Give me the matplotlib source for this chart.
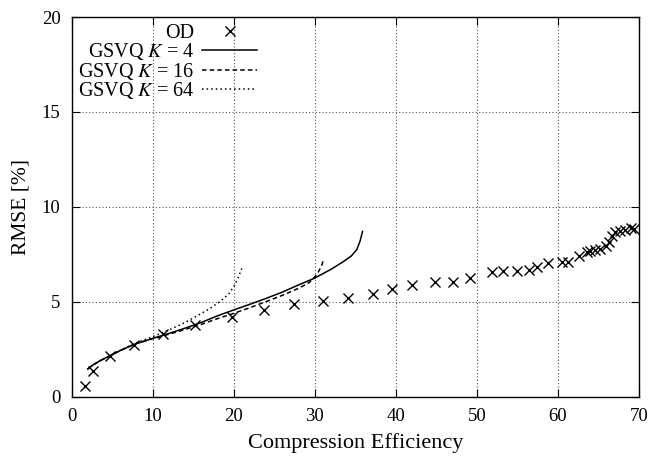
import matplotlib
matplotlib.use("Agg")
import matplotlib.pyplot as plt

plt.rcParams['font.family'] = ['Liberation Serif', 'DejaVu Serif']
plt.rcParams['mathtext.fontset'] = 'stix'

od_x = [1.65, 2.68, 4.74, 7.7, 11.3, 15.25, 19.8, 23.7, 27.4, 31.05, 34.05, 37.2, 39.5,
        42.0, 44.85, 47.0, 49.2, 51.9, 53.2, 55.0, 56.4, 57.4, 58.8, 60.5, 61.3, 62.6,
        63.6, 64.0, 64.6, 65.2, 65.9, 66.3, 66.7, 67.1, 67.7, 68.3, 69.0, 69.4]
od_y = [0.57, 1.33, 2.12, 2.74, 3.27, 3.75, 4.19, 4.54, 4.86, 5.04, 5.18, 5.4, 5.67,
        5.88, 6.05, 6.05, 6.23, 6.58, 6.63, 6.62, 6.67, 6.8, 7.02, 7.11, 7.11, 7.38,
        7.59, 7.65, 7.73, 7.77, 7.94, 8.12, 8.47, 8.65, 8.7, 8.76, 8.88, 8.83]

k4_x = [2.0, 2.5, 3.5, 4.7, 6, 7.8, 10, 12, 14, 16, 18, 20, 22, 24, 26, 28, 30, 32,
        33.5, 34.5, 35.2, 35.6, 35.9]
k4_y = [1.45, 1.62, 1.88, 2.14, 2.42, 2.76, 3.06, 3.32, 3.6, 3.9, 4.25, 4.56, 4.86,
        5.17, 5.5, 5.88, 6.24, 6.7, 7.1, 7.4, 7.75, 8.2, 8.7]

k16_x = [2.0, 2.5, 3.5, 4.7, 6, 7.8, 10, 12, 14, 16, 18, 20, 22, 24, 26, 28, 29.3,
         30.0, 30.5, 30.9, 31.1]
k16_y = [1.45, 1.62, 1.88, 2.14, 2.42, 2.76, 3.04, 3.28, 3.53, 3.8, 4.1, 4.38, 4.68,
         5.0, 5.33, 5.7, 6.0, 6.3, 6.6, 6.95, 7.25]

k64_x = [2.0, 2.5, 3.5, 4.7, 6, 7.8, 10, 12, 14, 15.5, 17, 18.3, 19.4, 20.1, 20.6, 21.0]
k64_y = [1.45, 1.62, 1.88, 2.14, 2.43, 2.8, 3.15, 3.5, 3.9, 4.25, 4.62, 5.0, 5.4, 5.85,
         6.3, 6.75]

labels = ['OD', 'GSVQ $K$ = 4', 'GSVQ $K$ = 16', 'GSVQ $K$ = 64']
x_ticks = list(range(0, 71, 10))
y_ticks = list(range(0, 21, 5))

fig = plt.figure(figsize=(6.61, 4.58), dpi=100)
ax = fig.add_axes([71.5 / 661, 1 - 396.5 / 458, (639 - 71.5) / 661, (396.5 - 17) / 458])

ax.plot(od_x, od_y, linestyle='none', marker='x', markersize=7.5, markeredgewidth=1.0,
        color='black', label=labels[0])
ax.plot(k4_x, k4_y, '-', color='black', lw=1.1, label=labels[1])
ax.plot(k16_x, k16_y, color='black', lw=1.1, linestyle=(0, (3, 2)), label=labels[2])
ax.plot(k64_x, k64_y, color='black', lw=1.1, linestyle=(0, (1, 2)), label=labels[3])

ax.set_xlim(0, 70)
ax.set_ylim(0, 20)
ax.set_xticks(x_ticks)
ax.set_yticks(y_ticks)
ax.tick_params(direction='in', top=True, right=True, length=6, width=0.8,
               labelsize=13.5, pad=8, colors='black')
ax.grid(True, color='#555555', linestyle=(0, (1, 2)), linewidth=0.8)
ax.set_axisbelow(True)
for s in ax.spines.values():
    s.set_linewidth(1.0)

ax.set_xlabel('Compression Efficiency', fontsize=16, labelpad=6)
ax.set_ylabel('RMSE [%]', fontsize=15.5, labelpad=8)

leg = ax.legend(loc='upper left', frameon=False, markerfirst=False, fontsize=14.5,
                handlelength=2.7, handletextpad=0.4, labelspacing=-0.08,
                borderaxespad=0.2, borderpad=0.2, bbox_to_anchor=(-0.003, 1.003))

fig.savefig('out.png', dpi=100)
